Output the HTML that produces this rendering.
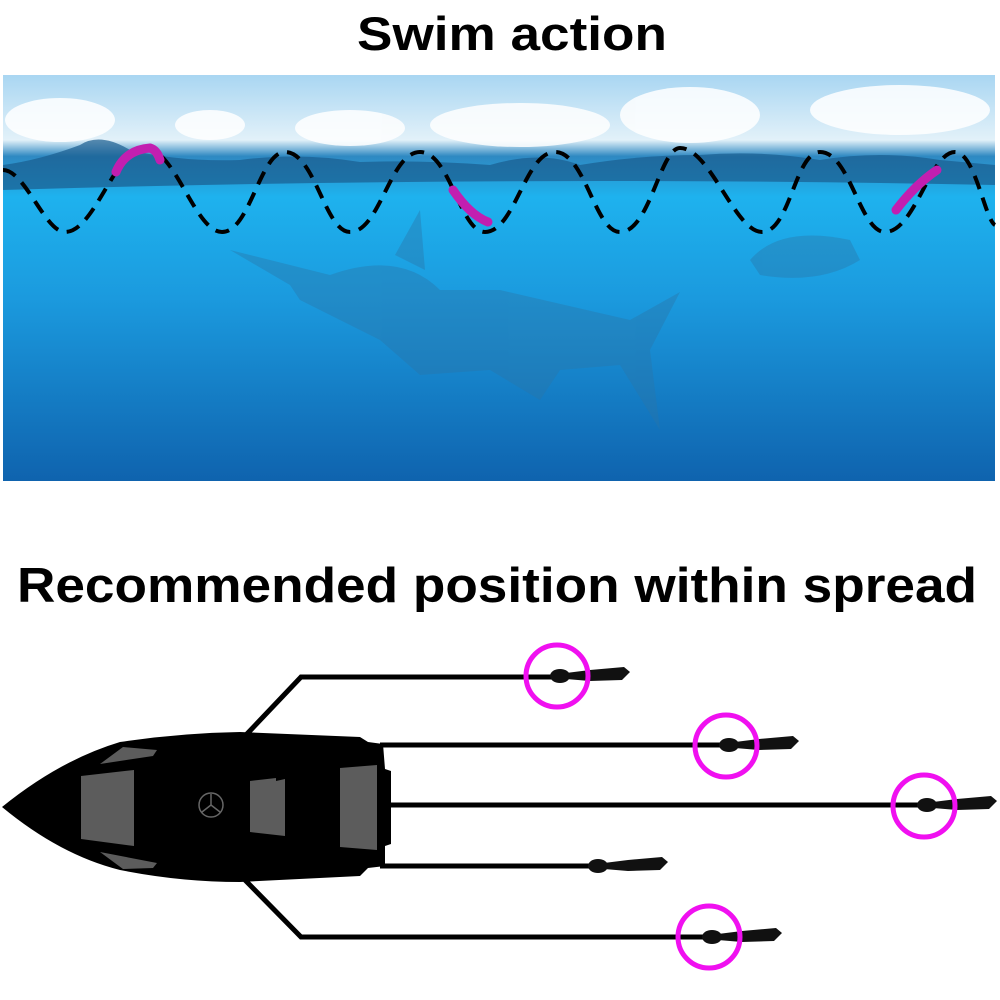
<!DOCTYPE html>
<html><head><style>
html,body{margin:0;padding:0;background:#fff;}
body{width:1000px;height:1000px;overflow:hidden;position:relative;font-family:"Liberation Sans",sans-serif;}
.t{position:absolute;left:0;width:1000px;text-align:center;font-weight:bold;color:#000;transform-origin:500px 0;}
</style></head><body>
<div class="t" style="top:6px;left:12px;font-size:47px;transform:scaleX(1.13);">Swim action</div>
<div class="t" style="top:558px;left:-3px;font-size:49px;transform:scaleX(1.085);">Recommended position within spread</div>
<svg width="1000" height="1000" style="position:absolute;left:0;top:0">
<defs>
<linearGradient id="sea" x1="0" y1="0" x2="0" y2="1">
<stop offset="0" stop-color="#a9d6f2"/>
<stop offset="0.16" stop-color="#e2f1f9"/>
<stop offset="0.2" stop-color="#2f89c2"/>
<stop offset="0.3" stop-color="#1eb2ee"/>
<stop offset="0.55" stop-color="#1b9ade"/>
<stop offset="1" stop-color="#0f63ae"/>
</linearGradient>
<g id="lure"><ellipse cx="10" cy="0" rx="10" ry="7" fill="#111"/><path d="M16,-3 L40,-6 L74,-9 L80,-4 L72,4 L40,5 L16,3 Z" fill="#111"/></g>
</defs>
<rect x="3" y="75" width="992" height="406" fill="url(#sea)"/>
<g fill="#fff" opacity="0.85">
<ellipse cx="60" cy="120" rx="55" ry="22"/><ellipse cx="210" cy="125" rx="35" ry="15"/>
<ellipse cx="350" cy="128" rx="55" ry="18"/><ellipse cx="520" cy="125" rx="90" ry="22"/>
<ellipse cx="690" cy="115" rx="70" ry="28"/><ellipse cx="900" cy="110" rx="90" ry="25"/>
</g>
<path d="M3,165 Q40,160 80,145 Q100,132 130,150 Q180,162 240,160 Q300,152 360,162 Q420,160 490,165 Q540,150 580,165 Q640,155 700,155 Q760,150 820,160 Q880,150 940,160 L995,165 L995,185 Q500,175 3,190 Z" fill="#1a5d8e" opacity="0.7"/>
<g fill="#2a75a8" opacity="0.4">
<path d="M230,250 L330,275 Q400,250 440,290 L500,290 L630,320 L680,292 L650,350 L660,430 L620,365 L560,370 L540,400 L490,370 L420,375 L380,340 L300,300 L290,285 Z"/>
<path d="M395,255 L420,210 L425,270 Z"/>
<path d="M750,260 Q780,225 850,240 L860,260 Q820,285 760,275 Z"/>
</g>
<path d="M3,170 C25,170 45,232 65,232 C95,232 115,148 145,148 C175,148 195,232 222,232 C250,232 260,152 285,152 C315,152 325,232 350,232 C380,232 390,152 420,152 C450,152 460,232 485,232 C515,232 525,152 555,152 C585,152 595,232 620,232 C650,232 660,148 680,148 C710,148 735,232 762,232 C790,232 795,152 820,152 C850,152 860,232 885,232 C915,232 930,152 955,152 C975,152 985,220 995,225" fill="none" stroke="#000" stroke-width="4" stroke-dasharray="14,9"/>
<g stroke="#c21fb0" stroke-width="9" stroke-linecap="round" fill="none">
<path d="M116,172 Q125,150 150,148 Q157,150 160,160"/>
<path d="M453,190 Q470,215 488,222"/>
<path d="M896,210 Q915,185 937,170"/>
</g>
<g stroke="#000" stroke-width="5" fill="none">
<path d="M245,736 L301,677 L560,677"/>
<path d="M245,880 L301,937 L710,937"/>
<line x1="380" y1="745" x2="730" y2="745"/>
<line x1="380" y1="805" x2="925" y2="805"/>
<line x1="380" y1="866" x2="595" y2="866"/>
</g>
<path d="M2,807 Q60,760 120,742 Q180,733 240,732 L360,737 L368,742 L383,744 L385,769 L391,771 L391,844 L385,846 L385,866 L368,868 L360,876 L240,882 Q180,882 120,870 Q60,855 2,807 Z" fill="#000"/>
<g fill="#5c5c5c">
<path d="M81,776 L134,770 L134,846 L81,839 Z"/>
<path d="M100,764 L123,747 L157,750 L153,756 Z"/>
<path d="M100,852 L157,863 L153,868 L123,869 Z"/>
<path d="M250,781 L276,778 L276,781 L285,779 L285,836 L250,832 Z"/>
<path d="M340,768 L377,765 L377,850 L340,847 Z"/>
</g>
<g stroke="#666" stroke-width="1.5" fill="none"><circle cx="211" cy="805" r="12"/><path d="M211,805 L211,794 M211,805 L202,812 M211,805 L220,812"/></g>
<use href="#lure" x="550" y="676"/>
<use href="#lure" x="719" y="745"/>
<use href="#lure" x="917" y="805"/>
<use href="#lure" x="588" y="866"/>
<use href="#lure" x="702" y="937"/>
<g stroke="#f010f0" stroke-width="5" fill="none">
<circle cx="557" cy="676" r="31"/>
<circle cx="726" cy="746" r="31"/>
<circle cx="924" cy="806" r="31"/>
<circle cx="709" cy="937" r="31"/>
</g>
</svg>
</body></html>
